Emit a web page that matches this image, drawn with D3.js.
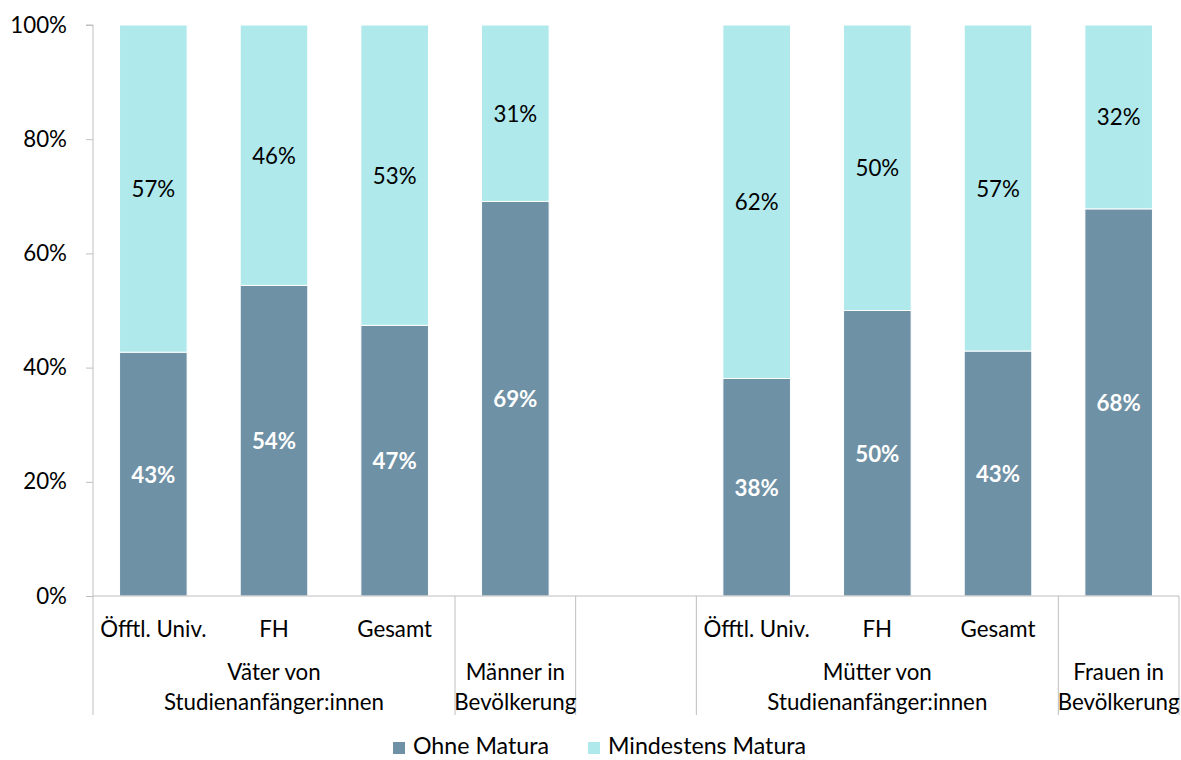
<!DOCTYPE html>
<html>
<head>
<meta charset="utf-8">
<script src="https://cdn.jsdelivr.net/npm/d3@7"></script>
<style>
  html, body { margin: 0; padding: 0; background: #fff; }
  svg { display: block; font-family: Lato, "Open Sans", sans-serif; }
</style>
</head>
<body>
<svg id="chart" width="1181" height="760"></svg>
<script>
// ---- data ----
const categories = ["c0", "c1", "c2", "c3", "c4", "c5", "c6", "c7", "c8"];
const subLabels = ["Öfftl. Univ.", "FH", "Gesamt", "", "", "Öfftl. Univ.", "FH", "Gesamt", ""];
const groupLabels = [
  ["Väter von", "Studienanfänger:innen"],
  ["Männer in", "Bevölkerung"],
  ["", ""],
  ["Mütter von", "Studienanfänger:innen"],
  ["Frauen in", "Bevölkerung"]
];
const groupSizes = [3, 1, 1, 3, 1];
const seriesNames = ["Ohne Matura", "Mindestens Matura"];
const ohneMatura = [42.7, 54.4, 47.4, 69.1, null, 38.1, 50.0, 42.9, 67.8];
const mindMatura = [57.3, 45.6, 52.6, 30.9, null, 61.9, 50.0, 57.1, 32.2];
const yTicks = [0, 20, 40, 60, 80, 100];

// ---- layout ----
(function () {
const colors = ["#6F91A5", "#AFE9EC"];
const mLeft = 93, mRight = 1179, mTop = 25, mBottom = 596;
const fs = 22.3;
const svg = d3.select("#chart");

const x = d3.scaleBand().domain(categories).range([mLeft, mRight])
  .paddingInner(0.44).paddingOuter(0.22);
const y = d3.scaleLinear().domain([0, 100]).range([mBottom, mTop]);
const step = x.step();
const slotStart = i => mLeft + i * step;

// y axis
const yAxis = d3.axisLeft(y).tickValues(yTicks).tickSize(7).tickPadding(19)
  .tickFormat(d => d + "%");
const gy = svg.append("g").attr("transform", `translate(${mLeft},0)`).call(yAxis);
gy.select(".domain").attr("stroke", "#BFBFBF").attr("d", `M-7,${mTop}H0V${mBottom}`);
gy.selectAll(".tick line").attr("stroke", "#BFBFBF");
gy.selectAll(".tick text").attr("font-size", fs).attr("fill", "#000")
  .attr("font-family", "Lato, 'Open Sans', sans-serif");

// bars
const stackData = categories.map((c, i) => ({ c, ohne: ohneMatura[i], mind: mindMatura[i] }))
  .filter(d => d.ohne != null);
const stack = d3.stack().keys(["ohne", "mind"])(stackData);

const layers = svg.append("g").selectAll("g").data(stack).join("g")
  .attr("fill", (d, i) => colors[i]);
layers.selectAll("rect").data(d => d).join("rect")
  .attr("x", d => x(d.data.c))
  .attr("width", x.bandwidth())
  .attr("y", d => y(d[1]))
  .attr("height", d => y(d[0]) - y(d[1]))
  .attr("stroke", "#fff").attr("stroke-width", 1);

// data labels
layers.selectAll("text").data((d, i) => d.map(v => ({ v, i }))).join("text")
  .attr("x", d => x(d.v.data.c) + x.bandwidth() / 2)
  .attr("y", d => (y(d.v[0]) + y(d.v[1])) / 2)
  .attr("text-anchor", "middle")
  .attr("dominant-baseline", "central")
  .attr("font-size", fs)
  .attr("font-weight", d => d.i === 0 ? "bold" : "normal")
  .attr("fill", d => d.i === 0 ? "#fff" : "#000")
  .text(d => Math.round(d.v[1] - d.v[0]) + "%");

// x axis baseline
const gx = svg.append("g");
gx.append("line").attr("x1", mLeft).attr("x2", mRight).attr("y1", mBottom).attr("y2", mBottom)
  .attr("stroke", "#BFBFBF");

// group boundaries
let bounds = [0];
groupSizes.forEach(s => bounds.push(bounds[bounds.length - 1] + s));
gx.selectAll("line.sep").data(bounds).join("line").attr("class", "sep")
  .attr("x1", d => slotStart(d)).attr("x2", d => slotStart(d))
  .attr("y1", mBottom).attr("y2", 715)
  .attr("stroke", "#BFBFBF");

// sub labels
gx.selectAll("text.sub").data(categories).join("text").attr("class", "sub")
  .attr("x", d => x(d) + x.bandwidth() / 2)
  .attr("y", 628)
  .attr("text-anchor", "middle").attr("dominant-baseline", "central")
  .attr("font-size", fs).attr("fill", "#000")
  .text((d, i) => subLabels[i]);

// group labels
groupLabels.forEach((lines, g) => {
  const cx = (slotStart(bounds[g]) + slotStart(bounds[g + 1])) / 2;
  lines.forEach((t, li) => {
    gx.append("text").attr("x", cx).attr("y", 671 + li * 30)
      .attr("text-anchor", "middle").attr("dominant-baseline", "central")
      .attr("font-size", fs).attr("fill", "#000").text(t);
  });
});

// legend
const legend = svg.append("g");
const legendX = [393, 588];
seriesNames.forEach((n, i) => {
  legend.append("rect").attr("x", legendX[i]).attr("y", 742).attr("width", 12).attr("height", 12)
    .attr("fill", colors[i]);
  legend.append("text").attr("x", legendX[i] + 20).attr("y", 754)
    .attr("font-size", 23.2).attr("fill", "#000").text(n);
});
})();
</script>
</body>
</html>
